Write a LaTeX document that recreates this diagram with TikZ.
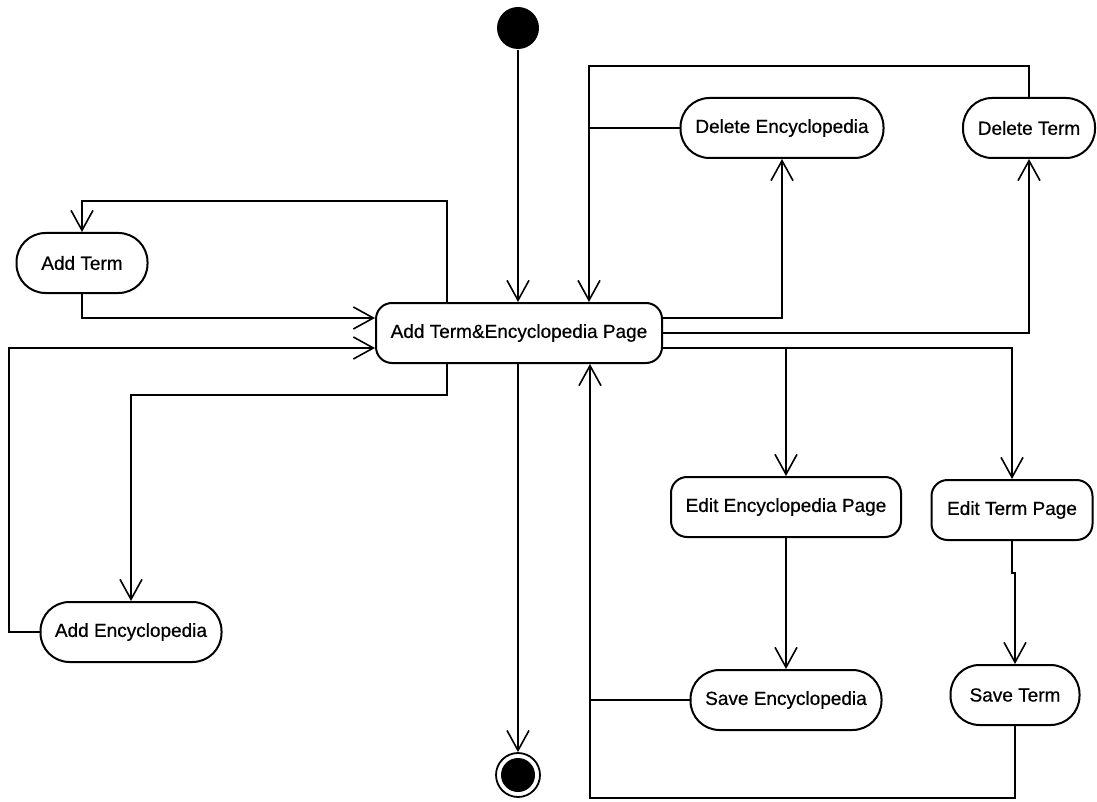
\documentclass[tikz,border=0pt]{standalone}
\usepackage{fontspec}
\setmainfont{Liberation Sans}
\newfontfamily\actfont[FakeBold=0.6]{Liberation Sans}
\usetikzlibrary{arrows.meta}

\begin{document}
\begin{tikzpicture}[x=1pt, y=-1pt, line width=1.6pt,
    act/.style={draw, line width=2pt, rounded corners=29pt, minimum height=60pt,
      inner sep=0pt, font=\fontsize{19}{22}\actfont},
    page/.style={act, rounded corners=16pt},
    arr/.style={-{Straight Barb[length=20pt, width=22pt]}}]
  \useasboundingbox (0,0) rectangle (1097,802);
  %
  \node[circle, fill=black, minimum size=42pt, inner sep=0pt] (start) at (518,28) {};
  \node[circle, draw, line width=1.8pt, minimum size=44pt, inner sep=0pt] (end) at (518,775) {};
  \fill (end) circle (17pt);                             % final state
  %
  \node[page, minimum width=286pt] (main) at (519,333) {Add Term\&Encyclopedia Page};
  %
  \node[act, minimum width=131pt] (addterm) at (82,263) {Add Term};      % left column
  \node[act, minimum width=181pt] (addenc) at (131,632) {Add Encyclopedia};
  %%
  \node[act, minimum width=203pt] (delenc) at (782,128) {Delete Encyclopedia}; % top row
  \node[act, minimum width=132pt] (delterm) at (1029,128) {Delete Term};
  %%
  \node[page, minimum width=230pt] (editenc) at (786,507) {Edit Encyclopedia Page}; % right columns
  \node[page, minimum width=161pt] (editterm) at (1012,510) {Edit Term Page};
  \node[act, minimum width=191pt] (saveenc) at (786,700) {Save Encyclopedia};
  \node[act, minimum width=129pt] (saveterm) at (1015,695) {Save Term};
  %
  \coordinate (tl) at (447,201);                        % bends
  \coordinate (bl) at (447,395);
  \coordinate (lb) at (9,348);
  \coordinate (tr) at (589,66);
  \coordinate (br) at (590,798);
  \coordinate (mr) at ([yshift=-15pt]main.east);
  \coordinate (jt) at (1012,573);
  %
  \draw[arr] (start) -- (main.north -| start);          % start and end
  \draw[arr] (main.south -| end) -- (end);
  %
  \draw[arr] (main.north -| tl) -- (tl) -| (addterm.north);     % left side
  \draw[arr] (addterm.south) |- ([yshift=15pt]main.west);
  \draw[arr] (addenc.west) -| (lb) -- ([yshift=-15pt]main.west);
  \draw[arr] (main.south -| bl) -- (bl) -| (addenc.north);
  %
  \draw[arr] ([yshift=15pt]main.east) -| (delenc.south);        % top side
  \draw[arr] (main.east) -| (delterm.south);
  \draw[arr] (delterm.north) |- (tr) -- (main.north -| tr);
  \draw (delenc.west) -- (delenc.west -| tr);
  %
  \draw[arr] (mr) -| (editterm.north);                          % right side
  \draw[arr] (mr -| editenc.north) -- (editenc.north);
  \draw[arr] (editenc.south) -- (saveenc.north);
  \draw[arr] (editterm.south) -- (jt) -| (saveterm.north);
  \draw[arr] (saveterm.south) |- (br) -- (main.south -| br);
  \draw (saveenc.west) -- (saveenc.west -| br);
  %
\end{tikzpicture}
\end{document}
